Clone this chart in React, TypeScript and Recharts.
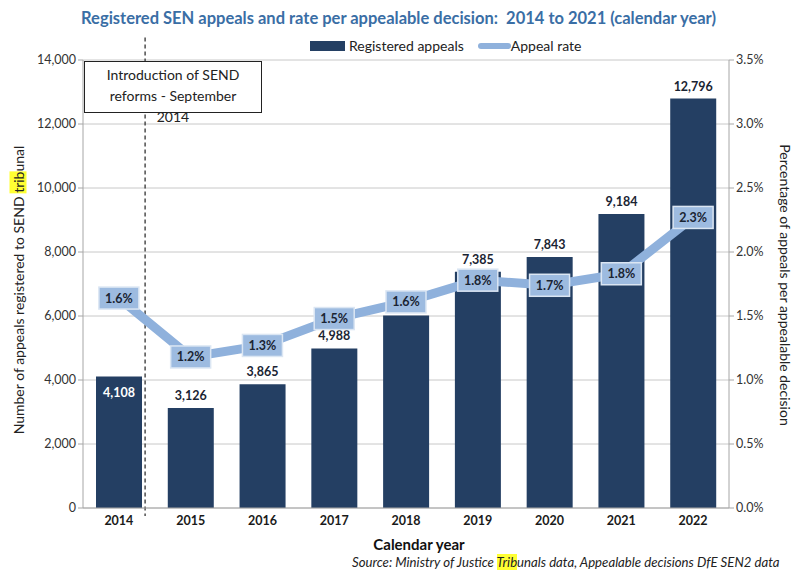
import React from 'react'
import {
  ComposedChart,
  Bar,
  Line,
  XAxis,
  YAxis,
  CartesianGrid,
  LabelList,
  ReferenceLine,
} from 'recharts'

const years = ['2014', '2015', '2016', '2017', '2018', '2019', '2020', '2021', '2022']
const appeals = [4108, 3126, 3865, 4988, 6015, 7385, 7843, 9184, 12796]
const appealRate = [1.64, 1.18, 1.27, 1.48, 1.61, 1.78, 1.74, 1.83, 2.27]
const appealTicks = [0, 2000, 4000, 6000, 8000, 10000, 12000, 14000]
const rateTicks = [0, 0.5, 1, 1.5, 2, 2.5, 3, 3.5]

const data = years.map((year, i) => ({ year, appeals: appeals[i], rate: appealRate[i], pos: i }))

const FONT = 'Lato, "Open Sans", sans-serif'
const BAR = '#243f63'
const LINE = '#8fb1dc'

function BarValue(props: any) {
  const { x, y, width, value, index } = props
  const first = index === 0 || value === appeals[0]
  return (
    <text
      x={x + width / 2}
      y={first ? y + 20 : y - 8}
      textAnchor="middle"
      fontSize={12.5}
      fontWeight={700}
      fontFamily={FONT}
      fill={first ? '#ffffff' : '#1a2433'}
    >
      {Number(value).toLocaleString('en-US')}
    </text>
  )
}

function RateValue(props: any) {
  const { x, y, value } = props
  return (
    <g>
      <rect x={x - 20} y={y - 11} width={40} height={22} fill="#9dbbe0" stroke="#dbe6f3" strokeWidth={1.5} />
      <text x={x} y={y + 4.5} textAnchor="middle" fontSize={12.5} fontWeight={700} fontFamily={FONT} fill="#1a2433">
        {Number(value).toFixed(1) + '%'}
      </text>
    </g>
  )
}

export default function App() {
  return (
    <div style={{ position: 'absolute', left: 0, top: 0, width: 793, height: 571, background: '#fff', overflow: 'hidden', fontFamily: FONT }}>
      <ComposedChart
        width={793}
        height={571}
        data={data}
        margin={{ top: 60, right: 0, bottom: 33, left: 0 }}
        style={{ position: 'absolute', left: 0, top: 0 }}
      >
        <CartesianGrid vertical={false} stroke="#c8c8c8" yAxisId="left" />
        <XAxis
          dataKey="year"
          xAxisId="cat"
          height={30}
          tick={{ fontSize: 12.5, fontWeight: 700, fill: '#1a1a1a', fontFamily: FONT }}
          tickLine={false}
          axisLine={{ stroke: '#a6a6a6' }}
          interval={0}
        />
        <XAxis xAxisId="num" dataKey="pos" type="number" domain={[0, 9]} hide />
        <YAxis
          yAxisId="left"
          width={83}
          domain={[0, 14000]}
          ticks={appealTicks}
          tickFormatter={(v: number) => v.toLocaleString('en-US')}
          tick={{ fontSize: 12.5, fill: '#333', fontFamily: FONT }}
          axisLine={{ stroke: '#a6a6a6' }}
          tickLine={{ stroke: '#a6a6a6' }}
          tickSize={5}
        />
        <YAxis
          yAxisId="right"
          orientation="right"
          width={64}
          domain={[0, 3.5]}
          ticks={rateTicks}
          tickFormatter={(v: number) => v.toFixed(1) + '%'}
          tick={{ fontSize: 12.5, fill: '#333', fontFamily: FONT }}
          axisLine={{ stroke: '#a6a6a6' }}
          tickLine={{ stroke: '#a6a6a6' }}
          tickSize={5}
        />
        <ReferenceLine
          xAxisId="num"
          yAxisId="left"
          segment={[{ x: 0.865, y: 14700 }, { x: 0.865, y: -250 }]}
          stroke="#222"
          strokeDasharray="4 3"
          strokeWidth={1.2}
          ifOverflow="visible"
        />
        <Bar xAxisId="cat" yAxisId="left" dataKey="appeals" fill={BAR} barSize={46} isAnimationActive={false}>
          <LabelList dataKey="appeals" content={BarValue} />
        </Bar>
        <Line
          xAxisId="cat"
          yAxisId="right"
          dataKey="rate"
          stroke={LINE}
          strokeWidth={9}
          dot={false}
          isAnimationActive={false}
        >
          <LabelList dataKey="rate" content={RateValue} />
        </Line>
      </ComposedChart>
      <div style={{ position: 'absolute', top: 8, left: 0, width: 797, textAlign: 'center', fontSize: 16.5, fontWeight: 700, color: '#3a6ea5' }}>
        Registered SEN appeals and rate per appealable decision:&nbsp; 2014 to 2021 (calendar year)
      </div>
      <div style={{ position: 'absolute', top: 37, left: 310, display: 'flex', alignItems: 'center', fontSize: 14, color: '#222' }}>
        <span style={{ display: 'inline-block', width: 35, height: 10, background: BAR, marginRight: 4 }} />
        <span style={{ marginRight: 14 }}>Registered appeals</span>
        <span style={{ display: 'inline-block', width: 33, height: 6, background: LINE, borderRadius: 3 }} />
        <span>Appeal rate</span>
      </div>
      <div style={{ position: 'absolute', left: 84, top: 61, width: 176, height: 50, border: '1.3px solid #222', background: '#fff' }} />
      <div style={{ position: 'absolute', left: 84, top: 64, width: 178, textAlign: 'center', fontSize: 14, lineHeight: '21px', color: '#222' }}>
        Introduction of SEND
        <br />
        reforms - September
        <br />
        2014
      </div>
      <div
        style={{
          position: 'absolute',
          left: 18,
          top: 290,
          transform: 'translate(-50%, -50%) rotate(-90deg)',
          whiteSpace: 'nowrap',
          fontSize: 14,
          color: '#222',
        }}
      >
        Number of appeals registered to SEND <span style={{ background: '#ffff33' }}>trib</span>unal
      </div>
      <div
        style={{
          position: 'absolute',
          left: 785,
          top: 285,
          transform: 'translate(-50%, -50%) rotate(90deg)',
          whiteSpace: 'nowrap',
          fontSize: 14,
          color: '#222',
        }}
      >
        Percentage of appeals per appealable decision
      </div>
      <div style={{ position: 'absolute', left: 0, width: 838, top: 536, lineHeight: '17px', textAlign: 'center', fontSize: 15, fontWeight: 700, color: '#111' }}>
        Calendar year
      </div>
      <div style={{ position: 'absolute', left: 352, top: 555, whiteSpace: 'nowrap', fontSize: 13.2, lineHeight: '15px', fontStyle: 'italic', color: '#222' }}>
        Source: Ministry of Justice <span style={{ background: '#ffff33' }}>Trib</span>unals data, Appealable decisions DfE SEN2 data
      </div>
    </div>
  )
}
